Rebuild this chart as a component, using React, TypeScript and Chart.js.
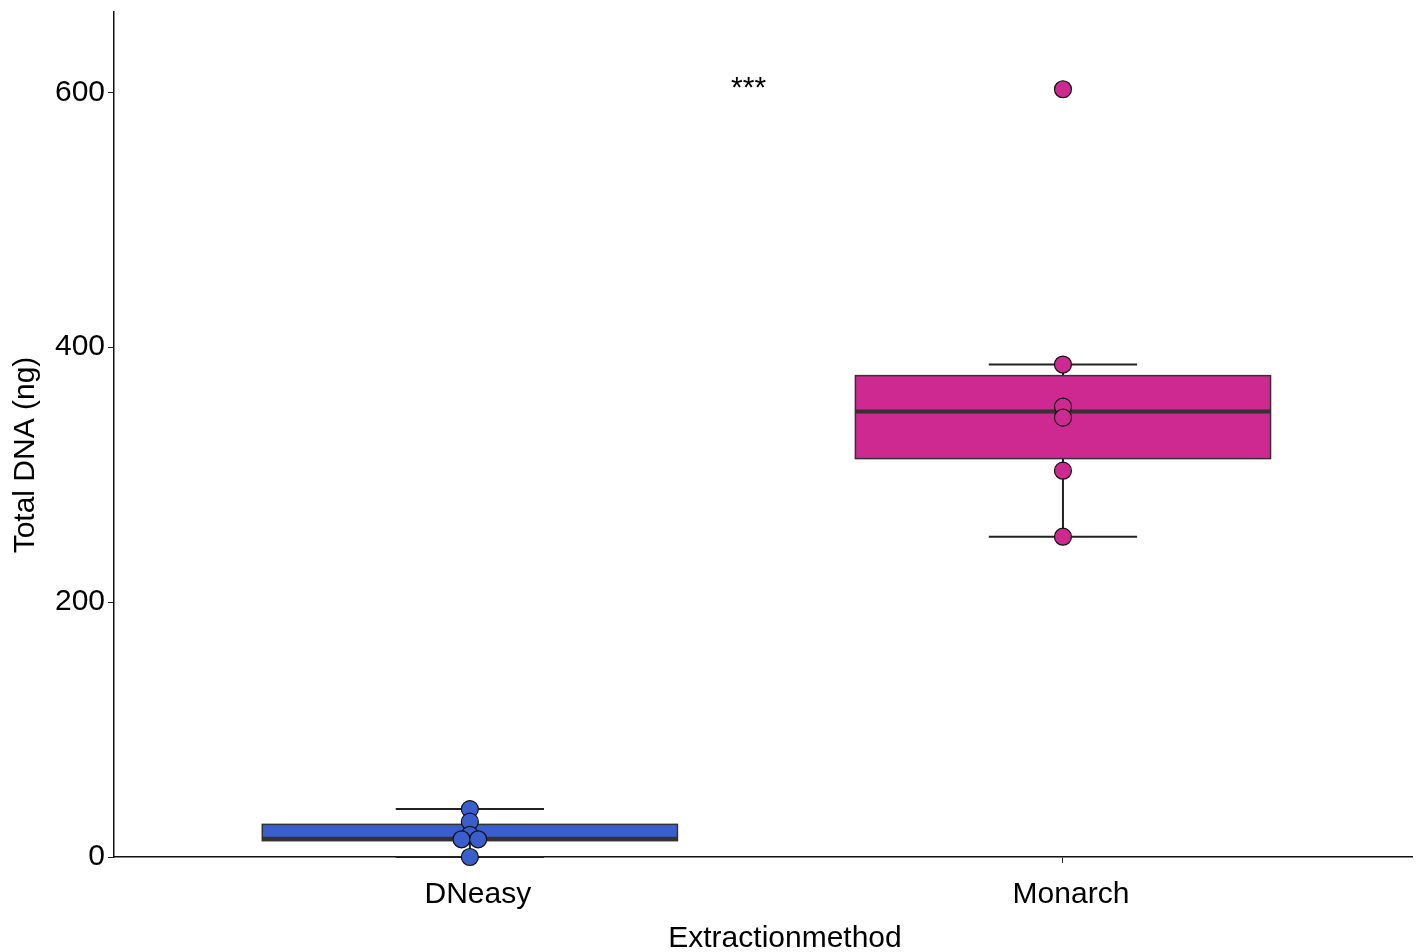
import React, { useEffect, useRef } from "react";
import { Chart, registerables } from "chart.js";

Chart.register(...registerables);

const categories = ["DNeasy", "Monarch"];
const boxColors = ["#3A5FCD", "#CD2990"];
const whiskerLow = [0, 251.3];
const q1 = [12.8, 312.6];
const median = [14.3, 349.5];
const q3 = [25.6, 377.7];
const whiskerHigh = [37.6, 386.4];

const dneasyValues = [37.6, 27.7, 17.3, 13.9, 13.9, 0];
const dneasyDodge = [0, 0, 0, -0.014, 0.014, 0];
const monarchValues = [602.4, 386.4, 353.4, 344.8, 303.1, 251.3];
const monarchDodge = [0, 0, 0, 0, 0, 0];

const yTicks = [0, 200, 400, 600];
const signifLabel = "***";
const signifPos = { x: 1.47, y: 603 };
const yTitle = "Total DNA (ng)";
const xTitle = "Extractionmethod";

const FONT = "'Liberation Sans', Arial, sans-serif";

const boxPlugin = {
  id: "boxes",
  beforeDatasetsDraw(chart: any) {
    const { ctx, scales } = chart;
    const xs = scales.x;
    const ys = scales.y;
    categories.forEach((_, i) => {
      const c = i + 1;
      const xl = xs.getPixelForValue(c - 0.35);
      const xr = xs.getPixelForValue(c + 0.35);
      const xc = xs.getPixelForValue(c);
      const cl = xs.getPixelForValue(c - 0.125);
      const cr = xs.getPixelForValue(c + 0.125);
      const yq1 = ys.getPixelForValue(q1[i]);
      const yq3 = ys.getPixelForValue(q3[i]);
      const ym = ys.getPixelForValue(median[i]);
      const ylo = ys.getPixelForValue(whiskerLow[i]);
      const yhi = ys.getPixelForValue(whiskerHigh[i]);
      ctx.save();
      ctx.strokeStyle = "#222";
      ctx.lineWidth = 2;
      ctx.beginPath();
      ctx.moveTo(xc, yq3);
      ctx.lineTo(xc, yhi);
      ctx.moveTo(xc, yq1);
      ctx.lineTo(xc, ylo);
      ctx.moveTo(cl, yhi);
      ctx.lineTo(cr, yhi);
      ctx.moveTo(cl, ylo);
      ctx.lineTo(cr, ylo);
      ctx.stroke();
      ctx.fillStyle = boxColors[i];
      ctx.fillRect(xl, yq3, xr - xl, yq1 - yq3);
      ctx.strokeStyle = "#333";
      ctx.lineWidth = 1.5;
      ctx.strokeRect(xl, yq3, xr - xl, yq1 - yq3);
      ctx.lineWidth = 4;
      ctx.beginPath();
      ctx.moveTo(xl, ym);
      ctx.lineTo(xr, ym);
      ctx.stroke();
      ctx.restore();
    });
  },
  afterDraw(chart: any) {
    const { ctx, scales } = chart;
    ctx.save();
    ctx.fillStyle = "#000";
    ctx.font = `30px ${FONT}`;
    ctx.textAlign = "center";
    ctx.textBaseline = "middle";
    ctx.fillText(signifLabel, scales.x.getPixelForValue(signifPos.x), scales.y.getPixelForValue(signifPos.y));
    ctx.fillText(xTitle, 785, 939);
    ctx.translate(26, 455);
    ctx.rotate(-Math.PI / 2);
    ctx.fillText(yTitle, 0, 0);
    ctx.restore();
  },
};

export default function App() {
  const ref = useRef<HTMLCanvasElement>(null);
  useEffect(() => {
    if (!ref.current) return;
    const mk = (vals: number[], dodge: number[], c: number) =>
      vals.map((v, i) => ({ x: c + dodge[i], y: v }));
    const chart = new Chart(ref.current, {
      type: "scatter",
      data: {
        datasets: [
          {
            label: categories[0],
            data: mk(dneasyValues, dneasyDodge, 1),
            backgroundColor: boxColors[0],
            borderColor: "#111",
            borderWidth: 1.2,
            pointRadius: 8.5,
            clip: false,
          },
          {
            label: categories[1],
            data: mk(monarchValues, monarchDodge, 2),
            backgroundColor: boxColors[1],
            borderColor: "#111",
            borderWidth: 1.2,
            pointRadius: 8.5,
            clip: false,
          },
        ],
      },
      options: {
        animation: false,
        responsive: false,
        maintainAspectRatio: false,
        layout: { padding: { left: 0, right: 0, top: 12, bottom: 0 } },
        plugins: { legend: { display: false }, tooltip: { enabled: false } },
        scales: {
          x: {
            type: "linear",
            min: 0.4,
            max: 2.589,
            afterBuildTicks: (s: any) => {
              s.ticks = categories.map((_, i) => ({ value: i + 1 }));
            },
            afterFit: (s: any) => {
              s.height = 95;
              s.paddingLeft = 0;
              s.paddingRight = 0;
            },
            grid: { drawOnChartArea: false, drawTicks: true, tickLength: 6, color: "#222" },
            border: { display: true, color: "#111", width: 1.5 },
            ticks: {
              color: "#000",
              font: { family: FONT, size: 30 },
              padding: 14,
              labelOffset: 8,
              maxRotation: 0,
              callback: (v: any) => categories[Math.round(Number(v)) - 1] ?? "",
            },
            title: { display: false },
          },
          y: {
            min: 0,
            max: 663,
            afterBuildTicks: (s: any) => {
              s.ticks = yTicks.map((v) => ({ value: v }));
            },
            afterFit: (s: any) => {
              s.width = 114;
              s.paddingTop = 0;
              s.paddingBottom = 0;
            },
            grid: { drawOnChartArea: false, drawTicks: true, tickLength: 6, color: "#222" },
            border: { display: true, color: "#111", width: 1.5 },
            ticks: {
              color: "#000",
              font: { family: FONT, size: 30 },
              padding: 3,
            },
            title: { display: false },
          },
        },
      },
      plugins: [boxPlugin],
    });
    return () => chart.destroy();
  }, []);
  return (
    <div style={{ position: "fixed", left: 0, top: 0, width: 1422, height: 952, background: "#fff" }}>
      <canvas ref={ref} width={1422} height={952} style={{ width: 1422, height: 952 }} />
    </div>
  );
}
